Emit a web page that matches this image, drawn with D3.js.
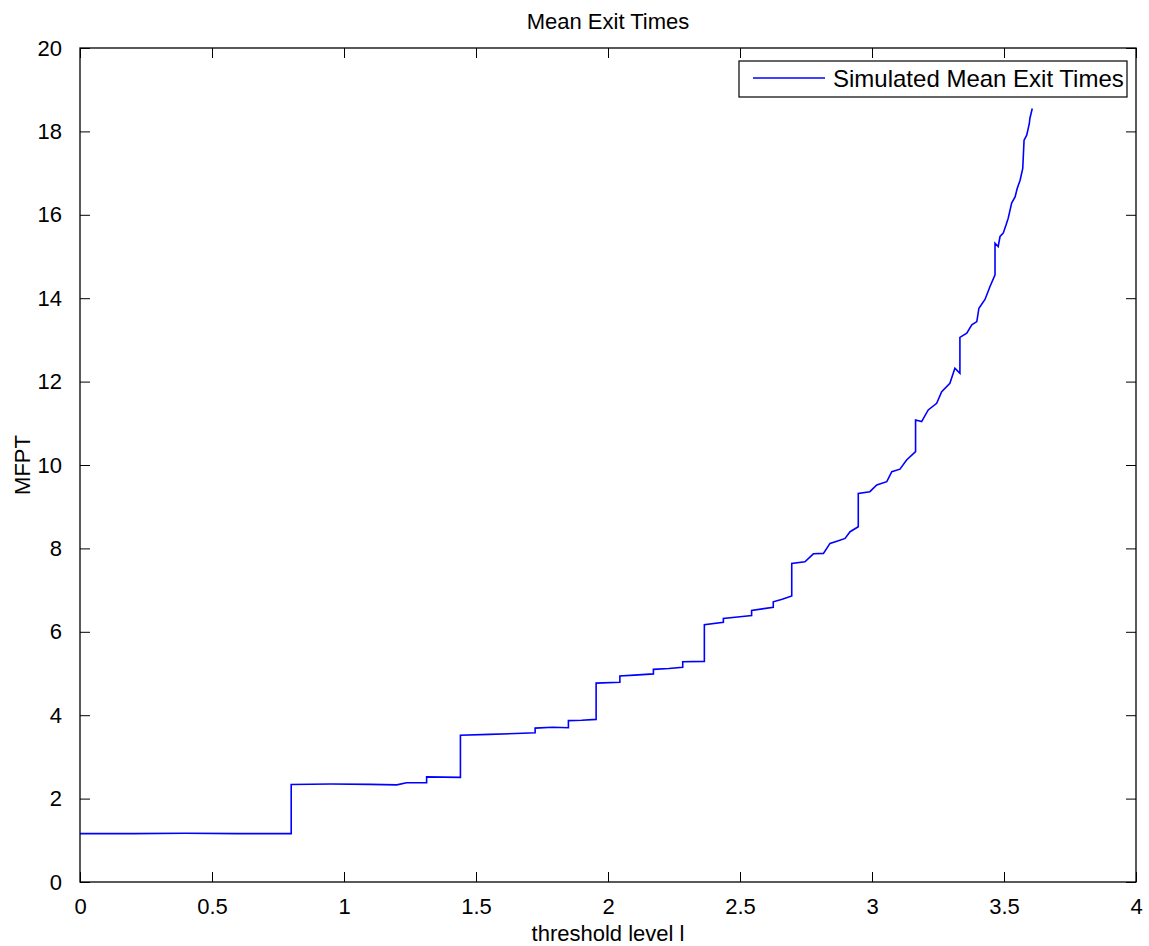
<!DOCTYPE html>
<html>
<head>
<meta charset="utf-8">
<script src="https://cdn.jsdelivr.net/npm/d3@7"></script>
<style>
  body { margin: 0; background: #fff; }
  svg { display: block; font-family: "Liberation Sans", Arial, sans-serif; }
</style>
</head>
<body>
<svg></svg>
<script>
var WIDTH = 1149;
var HEIGHT = 946;

// threshold level l (x) and simulated mean exit time (y)
var thresholds = [0, 0.20, 0.40, 0.60, 0.800, 0.800, 0.95, 1.10, 1.20, 1.237, 1.313, 1.313, 1.441,
  1.441, 1.55, 1.65, 1.724, 1.724, 1.79, 1.850, 1.850, 1.90, 1.955, 1.955, 2.045, 2.045, 2.10,
  2.172, 2.172, 2.23, 2.283, 2.283, 2.365, 2.365, 2.437, 2.437, 2.50, 2.544, 2.544, 2.626, 2.626,
  2.660, 2.696, 2.696, 2.746, 2.778, 2.816, 2.841, 2.870, 2.898, 2.917, 2.948, 2.948, 2.992, 3.018,
  3.056, 3.075, 3.106, 3.131, 3.165, 3.165, 3.188, 3.213, 3.245, 3.264, 3.295, 3.314, 3.333, 3.333,
  3.359, 3.378, 3.397, 3.405, 3.428, 3.447, 3.466, 3.466, 3.478, 3.485, 3.497, 3.508, 3.516, 3.529,
  3.542, 3.550, 3.561, 3.571, 3.576, 3.586, 3.596, 3.598, 3.607];
var mfpt = [1.16, 1.16, 1.17, 1.16, 1.16, 2.34, 2.35, 2.34, 2.33, 2.38, 2.38, 2.52, 2.51,
  3.52, 3.54, 3.56, 3.58, 3.69, 3.71, 3.70, 3.87, 3.88, 3.90, 4.77, 4.79, 4.94, 4.96,
  4.99, 5.10, 5.12, 5.15, 5.28, 5.29, 6.17, 6.23, 6.32, 6.36, 6.39, 6.51, 6.59, 6.72,
  6.78, 6.86, 7.64, 7.68, 7.87, 7.88, 8.12, 8.18, 8.24, 8.40, 8.52, 9.32, 9.36, 9.52,
  9.60, 9.84, 9.90, 10.12, 10.32, 11.08, 11.04, 11.32, 11.48, 11.76, 11.96, 12.32, 12.20, 13.06,
  13.16, 13.36, 13.44, 13.76, 13.97, 14.28, 14.56, 15.32, 15.24, 15.48, 15.56, 15.76, 15.92, 16.28,
  16.43, 16.63, 16.83, 17.11, 17.79, 17.91, 18.19, 18.31, 18.55];

var xTicks = [0, 0.5, 1, 1.5, 2, 2.5, 3, 3.5, 4];
var yTicks = [0, 2, 4, 6, 8, 10, 12, 14, 16, 18, 20];
var seriesName = 'Simulated Mean Exit Times';

var LEFT = 80, RIGHT = 1136, TOP = 48, BOTTOM = 882;

var svg = d3.select('svg')
  .attr('width', WIDTH)
  .attr('height', HEIGHT);

var xScale = d3.scaleLinear().domain([0, 4]).range([LEFT, RIGHT]);
var yScale = d3.scaleLinear().domain([0, 20]).range([BOTTOM, TOP]);

var points = thresholds.map(function(t, i){ return [t, mfpt[i]]; });

// the curve
var line = d3.line()
  .x(function(d){ return xScale(d[0]); })
  .y(function(d){ return yScale(d[1]); });

svg.append('path')
  .datum(points)
  .attr('d', line)
  .attr('fill', 'none')
  .attr('stroke', '#0000ff')
  .attr('stroke-width', 1.6);

// axes, ticks pointing inward on all four sides
var fmt = function(d){ return String(d); };
var tickLen = 10;

svg.append('g')
  .attr('transform', 'translate(0,' + BOTTOM + ')')
  .call(d3.axisBottom(xScale).tickValues(xTicks).tickFormat(fmt).tickSizeInner(-tickLen).tickSizeOuter(0).tickPadding(tickLen + 6));
svg.append('g')
  .attr('transform', 'translate(0,' + TOP + ')')
  .call(d3.axisTop(xScale).tickValues(xTicks).tickFormat('').tickSizeInner(-tickLen).tickSizeOuter(0));
svg.append('g')
  .attr('transform', 'translate(' + LEFT + ',0)')
  .call(d3.axisLeft(yScale).tickValues(yTicks).tickFormat(fmt).tickSizeInner(-tickLen).tickSizeOuter(0).tickPadding(tickLen + 8));
svg.append('g')
  .attr('transform', 'translate(' + RIGHT + ',0)')
  .call(d3.axisRight(yScale).tickValues(yTicks).tickFormat('').tickSizeInner(-tickLen).tickSizeOuter(0));

svg.selectAll('.domain').remove();
svg.selectAll('.tick line').attr('stroke', '#000').attr('stroke-width', 1);
svg.selectAll('.tick text')
  .attr('fill', '#000')
  .style('font-size', '22px')
  .style('font-family', '"Liberation Sans", Arial, sans-serif');

svg.append('rect')
  .attr('x', LEFT)
  .attr('y', TOP)
  .attr('width', RIGHT - LEFT)
  .attr('height', BOTTOM - TOP)
  .attr('fill', 'none')
  .attr('stroke', '#000')
  .attr('stroke-width', 1.3);

// title and labels
svg.append('text')
  .attr('x', (LEFT + RIGHT) / 2)
  .attr('y', 29)
  .attr('text-anchor', 'middle')
  .style('font-size', '22px')
  .text('Mean Exit Times');

svg.append('text')
  .attr('x', (LEFT + RIGHT) / 2)
  .attr('y', 941)
  .attr('text-anchor', 'middle')
  .style('font-size', '22px')
  .text('threshold level l');

svg.append('text')
  .attr('transform', 'translate(30,' + ((TOP + BOTTOM) / 2) + ') rotate(-90)')
  .attr('text-anchor', 'middle')
  .style('font-size', '22px')
  .text('MFPT');

// legend
var legend = svg.append('g');
legend.append('rect')
  .attr('x', 739)
  .attr('y', 61)
  .attr('width', 388)
  .attr('height', 36)
  .attr('fill', '#fff')
  .attr('stroke', '#000')
  .attr('stroke-width', 1.2);
legend.append('line')
  .attr('x1', 753).attr('x2', 825)
  .attr('y1', 78).attr('y2', 78)
  .attr('stroke', '#0000ff')
  .attr('stroke-width', 1.3);
legend.append('text')
  .attr('x', 833)
  .attr('y', 87)
  .style('font-size', '24px')
  .text(seriesName);
</script>
</body>
</html>
